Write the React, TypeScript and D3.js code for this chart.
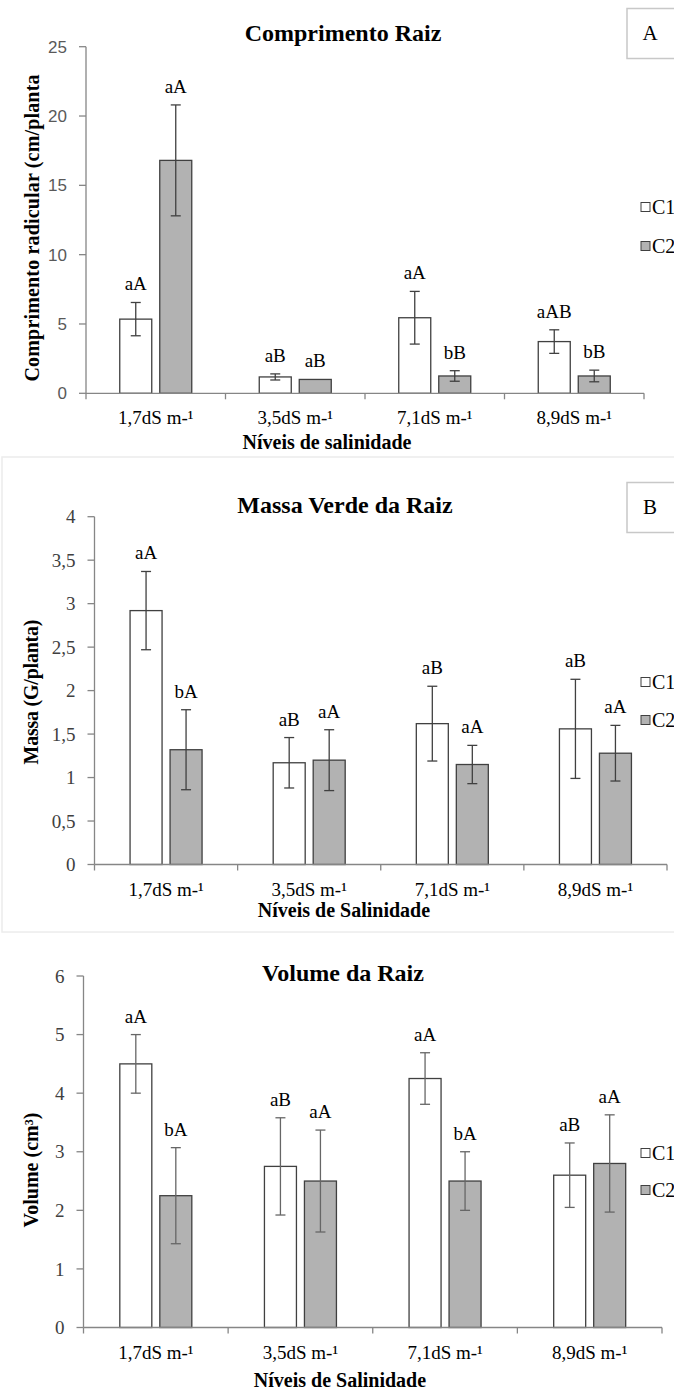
import * as d3 from "d3";

// categorias (níveis de salinidade)
const categorias = ["1,7dS m-¹", "3,5dS m-¹", "7,1dS m-¹", "8,9dS m-¹"];
const series = ["C1", "C2"];

// A - Comprimento Raiz
const comprimentoC1 = [5.35, 1.18, 5.45, 3.73];
const comprimentoC2 = [16.8, 1.0, 1.25, 1.25];
const comprimentoErroC1 = [1.2, 0.22, 1.9, 0.85];
const comprimentoErroC2 = [4.0, 0, 0.38, 0.42];
const comprimentoLetrasC1 = ["aA", "aB", "aA", "aAB"];
const comprimentoLetrasC2 = ["aA", "aB", "bB", "bB"];
const comprimentoTicks = [0, 5, 10, 15, 20, 25];

// B - Massa Verde da Raiz
const massaC1 = [2.92, 1.17, 1.62, 1.56];
const massaC2 = [1.32, 1.2, 1.15, 1.28];
const massaErroC1 = [0.45, 0.29, 0.43, 0.57];
const massaErroC2 = [0.46, 0.35, 0.22, 0.32];
const massaLetrasC1 = ["aA", "aB", "aB", "aB"];
const massaLetrasC2 = ["bA", "aA", "aA", "aA"];
const massaTicks = [0, 0.5, 1, 1.5, 2, 2.5, 3, 3.5, 4];

// C - Volume da Raiz
const volumeC1 = [4.5, 2.75, 4.25, 2.6];
const volumeC2 = [2.25, 2.5, 2.5, 2.8];
const volumeErroC1 = [0.5, 0.83, 0.44, 0.55];
const volumeErroC2 = [0.82, 0.87, 0.5, 0.83];
const volumeLetrasC1 = ["aA", "aB", "aA", "aB"];
const volumeLetrasC2 = ["bA", "aA", "bA", "aA"];
const volumeTicks = [0, 1, 2, 3, 4, 5, 6];

const SERIF = "Liberation Serif, Times New Roman, serif";
const SANS = "Liberation Sans, Arial, sans-serif";
const EIXO = "#868686";
const ESCURO = "#404040";
const fillSerie = ["#ffffff", "#b2b2b2"];

const fmt = (v: number) => String(v).replace(".", ",");

type PainelProps = {
  titulo: string;
  tituloX: number;
  tituloY: number;
  eixoY: string;
  eixoYx: number;
  eixoYcentro: number;
  eixoYlen: number;
  eixoX: string;
  eixoXx: number;
  eixoXy: number;
  x0: number;
  x1: number;
  yZero: number;
  yTopo: number;
  ticks: number[];
  tickFont: string;
  tickColor: string;
  tickSize: number;
  valores: number[][];
  erros: number[][];
  letras: string[][];
  legendaY: number[];
  caixa?: { letra: string; y: number };
  erroCor: string;
};

function Painel(p: PainelProps) {
  const yMax = p.ticks[p.ticks.length - 1];
  const x = d3.scaleBand().domain(categorias).range([p.x0, p.x1]);
  const y = d3.scaleLinear().domain([0, yMax]).range([p.yZero, p.yTopo]);
  const barW = 32;
  const gap = 8;
  const offset = (x.bandwidth() - (barW * 2 + gap)) / 2;
  const fronteiras = [...categorias.map((c) => x(c) as number), p.x1];

  return (
    <g>
      {p.caixa && (
        <g>
          <rect x={627} y={p.caixa.y} width={80} height={50} fill="#fff" stroke="#c8c8c8" strokeWidth={1.5} />
          <text x={650} y={p.caixa.y + 31} textAnchor="middle" fontFamily={SERIF} fontSize={21} fill="#000">
            {p.caixa.letra}
          </text>
        </g>
      )}
      <text x={p.tituloX} y={p.tituloY} textAnchor="middle" fontFamily={SERIF} fontWeight="bold" fontSize={24} fill="#000">
        {p.titulo}
      </text>
      {/* eixo y */}
      <line x1={p.x0} x2={p.x0} y1={y(yMax)} y2={p.yZero} stroke={EIXO} strokeWidth={1.3} />
      {p.ticks.map((t) => (
        <g key={t}>
          <line x1={p.x0 - 7} x2={p.x0} y1={y(t)} y2={y(t)} stroke={EIXO} strokeWidth={1.3} />
          <text
            x={p.x0 - 19}
            y={y(t)}
            dy="0.35em"
            textAnchor="end"
            fontFamily={p.tickFont}
            fontSize={p.tickSize}
            fill={p.tickColor}
          >
            {fmt(t)}
          </text>
        </g>
      ))}
      <text
        transform={`translate(${p.eixoYx},${p.eixoYcentro}) rotate(-90)`}
        textAnchor="middle"
        fontFamily={SERIF}
        fontWeight="bold"
        fontSize={20}
        textLength={p.eixoYlen}
        lengthAdjust="spacing"
        fill="#000"
      >
        {p.eixoY}
      </text>
      {/* barras */}
      {categorias.map((c, i) =>
        series.map((s, k) => {
          const bx = (x(c) as number) + offset + (k === 0 ? 0 : barW + gap);
          const v = p.valores[k][i];
          const e = p.erros[k][i];
          const cx = bx + barW / 2;
          const topo = y(v + e);
          return (
            <g key={c + s}>
              <rect x={bx} y={y(v)} width={barW} height={p.yZero - y(v)} fill={fillSerie[k]} stroke={ESCURO} strokeWidth={1.3} />
              {e > 0 && (
                <g stroke={p.erroCor} strokeWidth={1.3}>
                  <line x1={cx} x2={cx} y1={y(v + e)} y2={y(v - e)} />
                  <line x1={cx - 5} x2={cx + 5} y1={y(v + e)} y2={y(v + e)} />
                  <line x1={cx - 5} x2={cx + 5} y1={y(v - e)} y2={y(v - e)} />
                </g>
              )}
              <text x={cx} y={topo - 12} textAnchor="middle" fontFamily={SERIF} fontSize={19} fill="#000">
                {p.letras[k][i]}
              </text>
            </g>
          );
        })
      )}
      {/* eixo x */}
      <line x1={p.x0} x2={p.x1} y1={p.yZero} y2={p.yZero} stroke={EIXO} strokeWidth={1.3} />
      {fronteiras.map((fx, i) => (
        <line key={i} x1={fx} x2={fx} y1={p.yZero} y2={p.yZero + 6} stroke={EIXO} strokeWidth={1.3} />
      ))}
      {categorias.map((c) => (
        <text
          key={c}
          x={(x(c) as number) + x.bandwidth() / 2}
          y={p.yZero + 31}
          textAnchor="middle"
          fontFamily={SERIF}
          fontSize={19}
          fill="#000"
        >
          {c}
        </text>
      ))}
      <text x={p.eixoXx} y={p.eixoXy} textAnchor="middle" fontFamily={SERIF} fontWeight="bold" fontSize={20} fill="#000">
        {p.eixoX}
      </text>
      {/* legenda */}
      {series.map((s, k) => (
        <g key={s}>
          <rect x={641} y={p.legendaY[k] - 4.5} width={9} height={9} fill={fillSerie[k]} stroke={ESCURO} strokeWidth={1} />
          <text x={652} y={p.legendaY[k]} dy="0.35em" fontFamily={SERIF} fontSize={20} fill="#000">
            {s}
          </text>
        </g>
      ))}
    </g>
  );
}

export default function App() {
  return (
    <svg
      width={674}
      height={1392}
      style={{ position: "absolute", left: 0, top: 0, background: "#fff", overflow: "hidden" }}
    >
      <rect x={0} y={0} width={674} height={1392} fill="#fff" />
      <rect x={2} y={457} width={700} height={475} fill="none" stroke="#ececec" strokeWidth={1.5} />
      <Painel
        titulo="Comprimento Raiz"
        tituloX={343}
        tituloY={41}
        eixoY="Comprimento radicular (cm/planta"
        eixoYx={39}
        eixoYcentro={228}
        eixoYlen={307}
        eixoX="Níveis de salinidade"
        eixoXx={327}
        eixoXy={449}
        x0={86}
        x1={644}
        yZero={393.3}
        yTopo={46.7}
        ticks={comprimentoTicks}
        tickFont={SANS}
        tickColor="#595959"
        tickSize={17}
        valores={[comprimentoC1, comprimentoC2]}
        erros={[comprimentoErroC1, comprimentoErroC2]}
        letras={[comprimentoLetrasC1, comprimentoLetrasC2]}
        legendaY={[207, 246]}
        caixa={{ letra: "A", y: 8.5 }}
        erroCor="#404040"
      />
      <Painel
        titulo="Massa Verde da Raiz"
        tituloX={345}
        tituloY={513}
        eixoY="Massa (G/planta)"
        eixoYx={38}
        eixoYcentro={692}
        eixoYlen={145}
        eixoX="Níveis de Salinidade"
        eixoXx={344}
        eixoXy={917}
        x0={94.5}
        x1={667}
        yZero={864.5}
        yTopo={516.7}
        ticks={massaTicks}
        tickFont={SERIF}
        tickColor="#404040"
        tickSize={19}
        valores={[massaC1, massaC2]}
        erros={[massaErroC1, massaErroC2]}
        letras={[massaLetrasC1, massaLetrasC2]}
        legendaY={[682, 720]}
        caixa={{ letra: "B", y: 482.5 }}
        erroCor="#404040"
      />
      <Painel
        titulo="Volume da Raiz"
        tituloX={343}
        tituloY={981}
        eixoY="Volume (cm³)"
        eixoYx={38}
        eixoYcentro={1170}
        eixoYlen={115}
        eixoX="Níveis de Salinidade"
        eixoXx={340}
        eixoXy={1387}
        x0={83.5}
        x1={662}
        yZero={1327.5}
        yTopo={976}
        ticks={volumeTicks}
        tickFont={SERIF}
        tickColor="#404040"
        tickSize={19}
        valores={[volumeC1, volumeC2]}
        erros={[volumeErroC1, volumeErroC2]}
        letras={[volumeLetrasC1, volumeLetrasC2]}
        legendaY={[1153, 1190]}
        erroCor="#666666"
      />
    </svg>
  );
}
